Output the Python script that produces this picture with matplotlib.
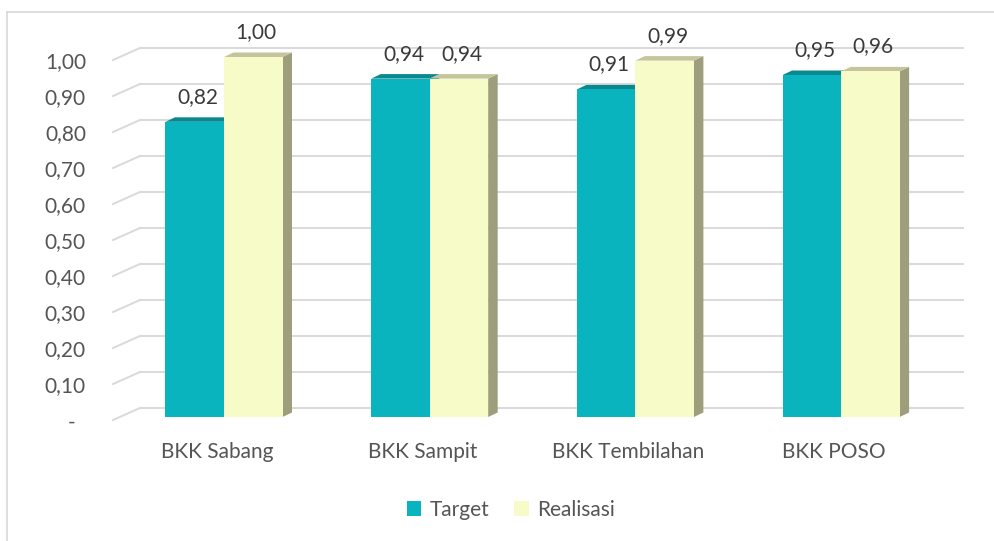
import matplotlib
matplotlib.use("Agg")
import matplotlib.pyplot as plt
from matplotlib.lines import Line2D
from matplotlib.patches import Polygon, Patch

plt.rcParams["font.family"] = ["Lato", "DejaVu Sans"]

categories = ["BKK Sabang", "BKK Sampit", "BKK Tembilahan", "BKK POSO"]
target = [0.82, 0.94, 0.91, 0.95]
realisasi = [1.00, 0.94, 0.99, 0.96]
ticks = [0.0, 0.1, 0.2, 0.3, 0.4, 0.5, 0.6, 0.7, 0.8, 0.9, 1.0]

W, H = 994, 541
PX_X = 205.7   # pixels per category
PX_Y = 360.0   # pixels per 1.0
X0_PX = 224    # pixel x of category 0 centre
Y0_PX = 417    # pixel y of value 0 (front face)
FS = 15


def dx(px):
    return px / PX_X


def dy(px):
    return px / PX_Y


fig = plt.figure(figsize=(W / 100, H / 100), dpi=100)
ax = fig.add_axes([0, 0, 1, 1])
ax.set_xlim(-X0_PX / PX_X, (W - X0_PX) / PX_X)
ax.set_ylim((Y0_PX - H) / PX_Y, Y0_PX / PX_Y)
ax.axis("off")

c_grid = "#D9D9D9"
c_axis_text = "#555555"
c_label_text = "#3A3A3A"

# back wall gridlines + floor diagonals
for v in ticks:
    yb = v + dy(9)
    yf = v - dy(3)
    ax.plot([dx(140 - X0_PX), dx(963 - X0_PX)], [yb, yb], color=c_grid, lw=1.4, zorder=1)
    ax.plot([dx(113 - X0_PX), dx(140 - X0_PX)], [yf, yb], color=c_grid, lw=1.4, zorder=1)
    lab = "-" if v == 0 else f"{v:.2f}".replace(".", ",")
    ax.text(dx(86 - X0_PX) if v else dx(72 - X0_PX), v - dy(5.5), lab,
            ha="right" if v else "center", va="center", fontsize=FS, color=c_axis_text)

bw = dx(58.5)
ddx, ddy = dx(9.5), dy(4.5)

series = [
    (target, -bw / 2, "#0AB4BE", "#088990", "#07858C"),
    (realisasi, bw / 2, "#F7FBC8", "#C4C59C", "#9E9E7D"),
]

for vals, off, c_front, c_top, c_side in series:
    for i, v in enumerate(vals):
        xc = i + off
        x0, x1 = xc - bw / 2, xc + bw / 2
        ax.add_patch(Polygon([(x1, 0), (x1, v), (x1 + ddx, v + ddy), (x1 + ddx, ddy)],
                             closed=True, fc=c_side, ec="none", zorder=3))
        ax.add_patch(Polygon([(x0, v), (x1, v), (x1 + ddx, v + ddy), (x0 + ddx, v + ddy)],
                             closed=True, fc=c_top, ec="none", zorder=3))
        ax.bar(xc, v, width=bw, color=c_front, edgecolor="none", zorder=3)
        ax.text(xc + dx(3), v + dy(25), f"{v:.2f}".replace(".", ","),
                ha="center", va="center", fontsize=FS, color=c_label_text, zorder=5)

for i, name in enumerate(categories):
    ax.text(i - dx(7), -dy(35), name, ha="center", va="center",
            fontsize=FS, color=c_axis_text)

handles = [Patch(fc="#0AB4BE", ec="none", label="Target"),
           Patch(fc="#F7FBC8", ec="none", label="Realisasi")]
leg = ax.legend(handles=handles, loc="center", bbox_to_anchor=(511 / W, 1 - 510 / H),
                bbox_transform=fig.transFigure, ncol=2, frameon=False, fontsize=FS,
                handlelength=0.7, handleheight=0.7, handletextpad=0.4, columnspacing=1.2)
for t in leg.get_texts():
    t.set_color(c_axis_text)

# chart border (top and left visible)
fig.add_artist(Line2D([7 / W, 7 / W], [0, 1 - 12 / H], color=c_grid, lw=1.2,
                      transform=fig.transFigure))
fig.add_artist(Line2D([7 / W, 1], [1 - 12 / H, 1 - 12 / H], color=c_grid, lw=1.2,
                      transform=fig.transFigure))

fig.savefig("out.png", dpi=100)
